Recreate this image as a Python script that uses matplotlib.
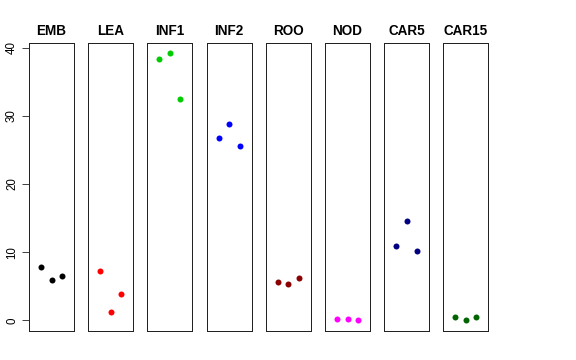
import matplotlib
matplotlib.use("Agg")
import matplotlib.pyplot as plt

plt.rcParams['font.family'] = ['Liberation Sans', 'DejaVu Sans']

tissues = ["EMB", "LEA", "INF1", "INF2", "ROO", "NOD", "CAR5", "CAR15"]
colors = ["#000000", "#FF0000", "#00CD00", "#0000FF", "#8B0000", "#FF00FF", "#000080", "#006400"]
values = {
    "EMB":   [7.75, 5.98, 6.47],
    "LEA":   [7.20, 1.22, 3.92],
    "INF1":  [38.38, 39.16, 32.46],
    "INF2":  [26.76, 28.82, 25.59],
    "ROO":   [5.59, 5.39, 6.28],
    "NOD":   [0.24, 0.15, 0.10],
    "CAR5":  [10.93, 14.60, 10.19],
    "CAR15": [0.54, 0.00, 0.44],
}
reps = [1, 2, 3]
yticks = [0, 10, 20, 30, 40]

W, H = 576, 360
fig = plt.figure(figsize=(W / 72, H / 72), dpi=72)

left0 = 29.0
pw = 45.0
period = 59.2
top_px, bot_px = 43.0, 331.0

for i, (name, col) in enumerate(zip(tissues, colors)):
    x0 = left0 + i * period
    ax = fig.add_axes([x0 / W, (H - bot_px) / H, pw / W, (bot_px - top_px) / H])
    ax.plot(reps, values[name], 'o', color=col, markersize=6, markeredgewidth=0)
    ax.set_xlim(-0.16, 4.16)
    ax.set_ylim(-1.57, 40.69)
    ax.set_xticks([])
    for s in ax.spines.values():
        s.set_linewidth(1.0)
        s.set_color('#222222')
    ax.set_title(name, fontsize=13.5, fontweight='bold', pad=8)
    if i == 0:
        ax.set_yticks(yticks)
        ax.set_yticklabels([str(t) for t in yticks], rotation=90, va='center', fontsize=11.5)
        ax.tick_params(axis='y', length=7, width=1, color='#444444', pad=4)
    else:
        ax.set_yticks([])

fig.savefig("out.png", dpi=72)
